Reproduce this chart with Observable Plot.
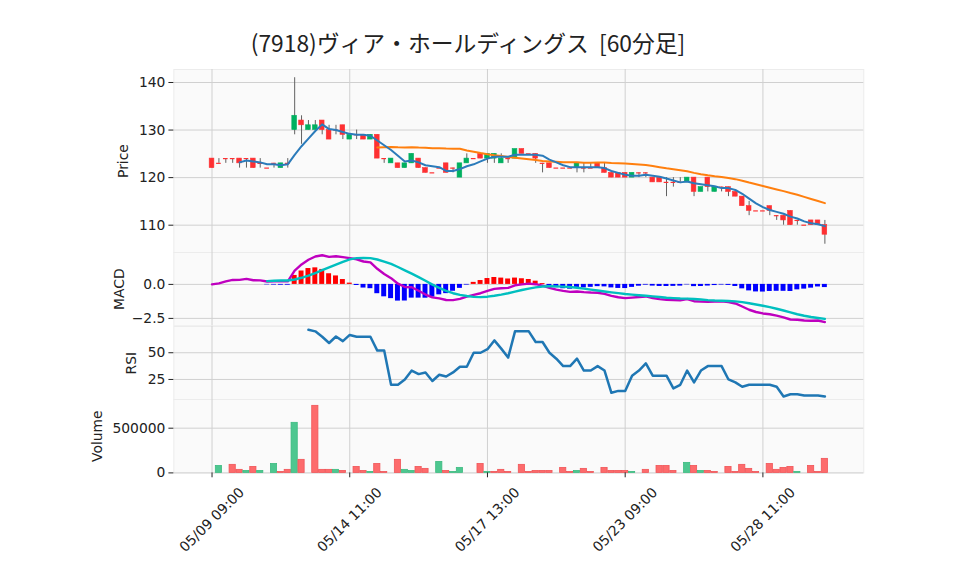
<!DOCTYPE html>
<html><head><meta charset="utf-8">
<script src="https://cdn.jsdelivr.net/npm/d3@7"></script>
<script src="https://cdn.jsdelivr.net/npm/@observablehq/plot@0.6"></script>
<style>
html,body{margin:0;padding:0;background:#fff;}
#chart{position:relative;width:958px;height:575px;overflow:hidden;background:#fff;}
#chart svg{position:absolute;left:0;overflow:visible;}
#title{position:absolute;left:0;width:936px;text-align:center;top:32px;font-family:"Noto Sans CJK JP",sans-serif;font-size:22.8px;line-height:1;color:#222;white-space:pre;}
</style></head><body>
<div id="chart"><div id="title">(7918)ヴィア・ホールディングス  [60分足]</div></div>
<script>
// ---- data (60-minute bars, index 0 = 05/09 09:00) ----
const tickIndex = [0, 20, 40, 60, 80];
const tickLabels = ["05/09 09:00", "05/14 11:00", "05/17 13:00", "05/23 09:00", "05/28 11:00"];

const open = [124,123,124,124,124,124,124,123,122,123,122,123,130,132,130,130,132,130,130,131,
128,129,129,128,129,124,123,123,122,123,124,122,121,122,123,122,120,123,124,125,
124,124,123,124,124,126,125,125,123,123,122,122,122,122,122,122,123,122,121,121,
121,120,121,121,120,120,119,119,119,119,120,117,120,117,118,118,117,116,114,113,
113,114,112,112,113,111,110,111,111,110];
const high = [124,124,124,124,124,124,124,124,122,123,123,124,141,133,132,132,132,131,131,131,
129,130,129,129,129,124,124,123,123,125,124,122,121,122,123,122,123,125,124,125,
125,125,125,124,126,126,125,125,123,123,122,122,122,123,123,123,123,123,121,121,
121,121,121,121,120,120,120,120,120,120,120,118,120,118,118,118,117,116,115,113,
113,114,112,112,113,111,110,111,111,111];
const low = [122,123,123,123,122,122,122,122,122,122,122,122,129,127,130,130,129,128,129,128,
128,128,128,128,124,123,123,122,122,123,122,121,121,122,121,121,120,123,124,124,
123,123,123,123,124,125,125,123,121,122,122,122,122,121,121,122,122,121,120,120,
120,120,120,120,119,119,116,118,119,119,116,117,117,117,117,116,116,114,112,113,
113,112,111,110,110,110,110,110,110,106];
const close = [122,123,124,124,123,124,122,123,122,123,123,123,133,131,131,131,130,128,130,129,
129,129,128,129,124,124,124,122,123,125,122,121,121,122,121,122,123,124,124,124,
125,125,124,124,126,125,125,124,123,122,122,122,122,123,122,122,122,121,120,120,
120,121,121,121,119,119,119,119,119,120,117,118,118,118,118,117,116,114,113,113,
113,113,112,111,110,111,110,110,110,108];
const volume = [0,78000,0,90000,34000,22000,67000,22000,0,100000,
11000,34000,560000,146000,0,750000,34000,34000,34000,22000,
0,67000,22000,11000,100000,11000,0,146000,34000,22000,
67000,45000,0,123000,22000,11000,56000,0,0,100000,
11000,11000,34000,11000,0,90000,11000,22000,22000,22000,
0,56000,11000,22000,45000,11000,0,56000,22000,22000,
22000,11000,0,34000,0,78000,78000,22000,0,112000,
78000,22000,22000,11000,0,67000,11000,90000,45000,11000,
0,100000,34000,56000,67000,11000,0,78000,11000,157000];

const ma5 = [null,null,null,null,123.2,123.6,123.4,123.2,122.8,122.8,
122.6,122.8,124.8,126.6,128.2,129.8,131.2,130.2,130.0,129.6,
129.2,129.0,129.0,128.8,127.8,126.8,125.8,124.6,123.4,123.6,
123.2,122.6,122.4,122.2,121.4,121.4,121.8,122.4,122.8,123.4,
124.0,124.4,124.4,124.4,124.8,124.8,124.8,124.8,124.6,123.8,
123.2,122.6,122.2,122.2,122.2,122.2,122.2,122.0,121.4,121.0,
120.6,120.4,120.4,120.6,120.4,120.2,119.8,119.4,119.0,119.2,
118.8,118.6,118.4,118.2,117.8,117.8,117.4,116.6,115.6,114.6,
113.8,113.2,112.8,112.4,111.8,111.4,110.8,110.4,110.2,109.8];
const ma25 = [null,null,null,null,null,null,null,null,null,null,
null,null,null,null,null,null,null,null,null,null,
null,null,null,null,126.32,126.40,126.44,126.36,126.32,126.40,
126.32,126.28,126.20,126.20,126.12,126.08,126.08,125.72,125.44,125.16,
124.92,124.72,124.56,124.32,124.20,124.04,123.88,123.72,123.48,123.40,
123.32,123.24,123.24,123.24,123.12,123.12,123.16,123.16,123.08,123.04,
122.96,122.88,122.76,122.64,122.44,122.20,121.96,121.76,121.56,121.32,
121.00,120.72,120.48,120.28,120.12,119.92,119.68,119.36,118.96,118.60,
118.24,117.88,117.52,117.16,116.76,116.40,115.96,115.52,115.08,114.64];

const macd = [0.000,0.080,0.221,0.329,0.331,0.408,0.304,0.299,0.211,0.220,
0.224,0.225,1.020,1.472,1.810,2.054,2.142,2.027,2.073,2.006,
1.930,1.849,1.684,1.616,1.146,0.764,0.457,0.051,-0.187,-0.213,
-0.470,-0.746,-0.953,-1.025,-1.149,-1.153,-1.064,-0.902,-0.765,-0.649,
-0.471,-0.326,-0.288,-0.255,-0.067,0.001,0.054,0.016,-0.094,-0.259,
-0.386,-0.480,-0.549,-0.517,-0.565,-0.597,-0.615,-0.701,-0.841,-0.941,
-1.009,-0.970,-0.929,-0.886,-1.002,-1.081,-1.131,-1.157,-1.165,-1.078,
-1.237,-1.267,-1.276,-1.269,-1.249,-1.298,-1.402,-1.627,-1.865,-2.029,
-2.135,-2.193,-2.294,-2.427,-2.582,-2.595,-2.655,-2.673,-2.656,-2.772];
const signal = [null,null,null,null,null,null,null,null,0.243,0.267,
0.283,0.283,0.360,0.487,0.643,0.837,1.042,1.244,1.450,1.648,
1.837,1.929,1.953,1.931,1.830,1.677,1.503,1.278,1.034,0.796,
0.539,0.269,-0.017,-0.258,-0.471,-0.649,-0.773,-0.853,-0.914,-0.934,
-0.903,-0.834,-0.752,-0.653,-0.532,-0.414,-0.307,-0.221,-0.159,-0.135,
-0.142,-0.163,-0.196,-0.246,-0.309,-0.381,-0.451,-0.519,-0.583,-0.645,
-0.704,-0.751,-0.796,-0.832,-0.877,-0.929,-0.977,-1.012,-1.037,-1.044,
-1.074,-1.112,-1.155,-1.185,-1.203,-1.222,-1.249,-1.300,-1.388,-1.476,
-1.572,-1.674,-1.788,-1.919,-2.062,-2.194,-2.308,-2.398,-2.468,-2.539];
const histogram = [null,null,null,null,null,null,null,null,-0.032,-0.047,
-0.059,-0.058,0.660,0.985,1.167,1.217,1.100,0.783,0.623,0.358,
0.093,-0.080,-0.269,-0.315,-0.684,-0.913,-1.046,-1.227,-1.221,-1.009,
-1.009,-1.015,-0.936,-0.767,-0.678,-0.504,-0.291,-0.049,0.149,0.285,
0.432,0.508,0.464,0.398,0.465,0.415,0.361,0.237,0.065,-0.124,
-0.244,-0.317,-0.353,-0.271,-0.256,-0.216,-0.164,-0.182,-0.258,-0.296,
-0.305,-0.219,-0.133,-0.054,-0.125,-0.152,-0.154,-0.145,-0.128,-0.034,
-0.163,-0.155,-0.121,-0.084,-0.046,-0.076,-0.153,-0.327,-0.477,-0.553,
-0.563,-0.519,-0.506,-0.508,-0.520,-0.401,-0.347,-0.275,-0.188,-0.233];

const rsi = [null,null,null,null,null,null,null,null,null,null,
null,null,null,null,71.43,70.00,65.00,59.09,65.22,60.87,
66.67,65.00,65.00,65.00,52.00,52.00,20.00,20.00,25.00,33.33,
30.00,31.58,23.53,29.41,27.78,31.58,36.84,36.84,50.00,50.00,
53.33,61.54,53.85,45.45,70.00,70.00,70.00,60.00,60.00,50.00,
44.44,37.50,37.50,44.44,33.33,33.33,37.50,33.33,12.50,14.29,
14.29,28.57,33.33,40.00,28.57,28.57,28.57,16.67,20.00,33.33,
22.22,33.33,37.50,37.50,37.50,25.00,22.22,18.18,20.00,20.00,
20.00,20.00,18.18,9.09,11.11,11.11,10.00,10.00,10.00,9.09];

// ---- build records ----
const bars = close.map((c, i) => ({i, o: open[i], h: high[i], l: low[i], c, v: volume[i],
  volUp: i === 0 ? c > open[i] : c > close[i - 1]}));
const series = (arr) => arr.map((v, i) => ({i, v})).filter(d => d.v !== null);

// ---- layout ----
const W = 958, ML = 173.3, MR = 94.7;
const xDomain = [-5.55, 94.65];
const FONT = "DejaVu Sans, sans-serif";
const FS = 13.9;
const GRID = "#d0d0d0";
const chart = document.getElementById("chart");

const UP = "#00b060", DOWN = "#fe3032", WICK = "#606060";
const VUP = "#4dc790", VDOWN = "#fd6b6c";

function panel({top, bottom, yDomain, yTicks, yFormat, yLabel, labelX, marks, extra = [], padB = 12}) {
  const padT = 12;
  const h = bottom - top;
  const svg = Plot.plot({
    width: W, height: h + padT + padB,
    marginLeft: ML, marginRight: MR, marginTop: padT, marginBottom: padB,
    x: {domain: xDomain, axis: null},
    y: {domain: yDomain, axis: null},
    style: {background: "transparent", fontFamily: FONT, fontSize: FS + "px", color: "#222", overflow: "visible"},
    marks: [
      Plot.frame({fill: "#fafafa", stroke: "#ececec"}),
      Plot.gridX(tickIndex, {stroke: GRID, strokeOpacity: 1, strokeWidth: 1}),
      Plot.gridY(yTicks, {stroke: GRID, strokeOpacity: 1, strokeWidth: 1}),
      ...marks,
      Plot.axisY(yTicks, {tickSize: 4.9, tickPadding: 3.5, tickFormat: yFormat, fontSize: FS, stroke: "#222", label: null}),
      Plot.text([yLabel], {frameAnchor: "left", dx: labelX - ML, rotate: -90, fontSize: FS, textAnchor: "middle", lineAnchor: "middle", fill: "#222"}),
      ...extra
    ]
  });
  svg.style.position = "absolute";
  svg.style.left = "0px";
  svg.style.top = (top - padT) + "px";
  chart.appendChild(svg);
}

// Price panel
panel({
  top: 69.3, bottom: 252.4, yDomain: [104.24, 142.73],
  yTicks: [110, 120, 130, 140], yFormat: d => String(d), yLabel: "Price", labelX: 123,
  marks: [
    Plot.ruleX(bars, {x: "i", y1: "l", y2: "h", stroke: WICK, strokeWidth: 1}),
    Plot.rect(bars.filter(d => d.o !== d.c), {x1: d => d.i - 0.34, x2: d => d.i + 0.34, y1: "o", y2: "c",
      fill: d => d.c > d.o ? UP : DOWN, stroke: d => d.c > d.o ? UP : DOWN, strokeWidth: 0.6}),
    Plot.ruleY(bars.filter(d => d.o === d.c), {y: "c", x1: d => d.i - 0.34, x2: d => d.i + 0.34, stroke: DOWN, strokeWidth: 1.2}),
    Plot.line(series(ma25), {x: "i", y: "v", stroke: "#ff7f0e", strokeWidth: 2}),
    Plot.line(series(ma5), {x: "i", y: "v", stroke: "#2b7bba", strokeWidth: 2})
  ]
});

// MACD panel
const histData = series(histogram);
panel({
  top: 252.4, bottom: 325.8, yDomain: [-3.051, 2.346],
  yTicks: [-2.5, 0], yFormat: d => d === 0 ? "0.0" : "\u22122.5", yLabel: "MACD", labelX: 119,
  marks: [
    Plot.rect(histData, {x1: d => d.i - 0.36, x2: d => d.i + 0.36, y1: 0, y2: "v", fill: d => d.v >= 0 ? "#ff0000" : "#0000ff"}),
    Plot.line(series(macd), {x: "i", y: "v", stroke: "#bf00bf", strokeWidth: 2.4}),
    Plot.line(series(signal), {x: "i", y: "v", stroke: "#00bfbf", strokeWidth: 2.4})
  ]
});

// RSI panel
panel({
  top: 325.8, bottom: 399.1, yDomain: [5.97, 74.55],
  yTicks: [25, 50], yFormat: d => String(d), yLabel: "RSI", labelX: 131,
  marks: [
    Plot.line(series(rsi), {x: "i", y: "v", stroke: "#1f77b4", strokeWidth: 2.5})
  ]
});

// Volume panel
panel({
  top: 399.1, bottom: 472.5, yDomain: [0, 821000], padB: 100,
  yTicks: [0, 500000], yFormat: d => String(d), yLabel: "Volume", labelX: 97,
  marks: [
    Plot.rect(bars, {x1: d => d.i - 0.45, x2: d => d.i + 0.45, y1: 0, y2: "v",
      fill: d => d.volUp ? VUP : VDOWN, stroke: d => d.volUp ? "#3dbb80" : "#f05558", strokeWidth: 0.8})
  ],
  extra: [
    Plot.axisX(tickIndex, {anchor: "bottom", tickSize: 4.9, tickFormat: () => "", stroke: "#222", label: null}),
    Plot.text(tickIndex, {x: d => d, text: (d, k) => tickLabels[k], frameAnchor: "bottom", dy: 47, rotate: -45,
      textAnchor: "middle", lineAnchor: "middle", fontSize: FS, fill: "#222"})
  ]
});
</script>
</body></html>
